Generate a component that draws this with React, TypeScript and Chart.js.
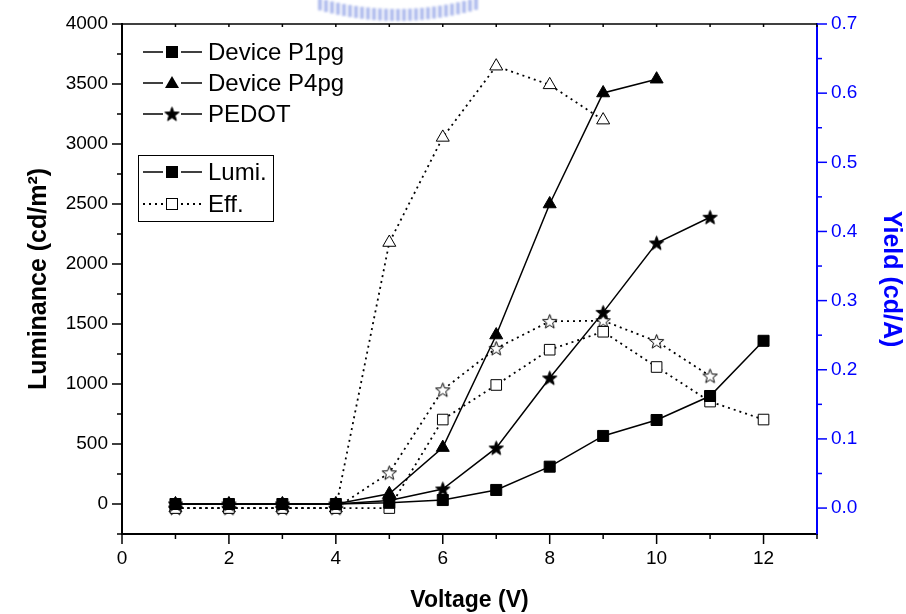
import React, { useEffect, useRef } from 'react';
import { Chart, registerables } from 'chart.js';

Chart.register(...registerables);

// ---------- data ----------
const voltage = [1, 2, 3, 4, 5, 6, 7, 8, 9, 10, 11, 12];
const p1Lumi = [0, 0, 0, 0, 10, 33, 117, 311, 567, 700, 900, 1360];
const p4Lumi = [0, 0, 0, 0, 85, 470, 1408, 2500, 3425, 3540];
const pedotLumi = [0, 0, 0, 0, 30, 125, 467, 1050, 1597, 2175, 2390];
const p1Eff = [0, 0, 0, 0, 0, 0.128, 0.178, 0.229, 0.255, 0.204, 0.154, 0.128];
const p4Eff = [0, 0, 0, 0, 0.384, 0.536, 0.639, 0.612, 0.561];
const pedotEff = [0, 0, 0, 0, 0.051, 0.171, 0.231, 0.27, 0.271, 0.241, 0.191];

const xTickValues = [0, 2, 4, 6, 8, 10, 12];
const yTickValues = [0, 500, 1000, 1500, 2000, 2500, 3000, 3500, 4000];
const y1TickValues = [0, 0.1, 0.2, 0.3, 0.4, 0.5, 0.6, 0.7];

const deviceNames = ['Device P1pg', 'Device P4pg', 'PEDOT'];
const kindNames = ['Lumi.', 'Eff.'];
const xTitle = 'Voltage (V)';
const yTitle = 'Luminance (cd/m\u00B2)';
const y1Title = 'Yield (cd/A)';

const FONT = '"Liberation Sans", Arial, sans-serif';
const BLUE = '#0000ff';

function pts(vals: number[]) {
  return vals.map((v, i) => ({ x: voltage[i], y: v }));
}

function makeStar(filled: boolean, size = 17) {
  const c = document.createElement('canvas');
  c.width = size;
  c.height = size;
  const ctx = c.getContext('2d')!;
  const cx = size / 2;
  const cy = size / 2 + 0.6;
  const R = size / 2 - 1;
  const r = R * 0.42;
  ctx.beginPath();
  for (let i = 0; i < 10; i++) {
    const ang = -Math.PI / 2 + (i * Math.PI) / 5;
    const rad = i % 2 === 0 ? R : r;
    ctx.lineTo(cx + rad * Math.cos(ang), cy + rad * Math.sin(ang));
  }
  ctx.closePath();
  ctx.fillStyle = filled ? '#000' : '#fff';
  ctx.fill();
  ctx.lineWidth = 1;
  ctx.strokeStyle = '#000';
  ctx.stroke();
  return c;
}

function line(ctx: CanvasRenderingContext2D, x1: number, y1: number, x2: number, y2: number) {
  ctx.beginPath();
  ctx.moveTo(x1, y1);
  ctx.lineTo(x2, y2);
  ctx.stroke();
}

export default function App() {
  const ref = useRef<HTMLCanvasElement | null>(null);

  useEffect(() => {
    document.body.style.margin = '0';
    const canvas = ref.current!;
    const starFilled = makeStar(true);
    const starHollow = makeStar(false);

    const mk = (label: string, vals: number[], axis: string, style: any, filled: boolean, dashed: boolean, radius: number) => ({
      label,
      data: pts(vals),
      yAxisID: axis,
      borderColor: '#000',
      borderWidth: dashed ? 1.8 : 1.5,
      borderDash: dashed ? [2, 4] : [],
      pointStyle: style,
      pointRadius: radius,
      pointBackgroundColor: filled ? '#000' : '#fff',
      pointBorderColor: '#000',
      pointBorderWidth: 1,
      fill: false,
      tension: 0,
    });

    const decor = {
      id: 'decor',
      beforeDraw(chart: any) {
        const ctx: CanvasRenderingContext2D = chart.ctx;
        ctx.save();
        ctx.fillStyle = '#fff';
        ctx.fillRect(0, 0, chart.width, chart.height);
        // faint watermark at top
        ctx.filter = 'blur(1.2px)';
        ctx.fillStyle = 'rgba(125,145,225,0.6)';
        for (let x = 320; x <= 476; x += 6) {
          const t = (x - 397) / 82;
          const yc = 5 + 12 * (1 - t * t);
          ctx.fillRect(x - 2, yc - 8, 4, 12);
        }
        ctx.restore();
      },
      afterDraw(chart: any) {
        const ctx: CanvasRenderingContext2D = chart.ctx;
        const a = chart.chartArea;
        const sx = chart.scales.x;
        const sy = chart.scales.y;
        const sy1 = chart.scales.y1;
        ctx.save();
        ctx.strokeStyle = '#000';
        ctx.lineWidth = 1.5;
        line(ctx, a.left, a.top, a.right, a.top);
        for (let v = 0; v <= 13; v++) {
          const px = sx.getPixelForValue(v);
          const len = v % 2 === 0 ? 10 : 5;
          line(ctx, px, a.bottom, px, a.bottom + len);
          line(ctx, px, a.top, px, a.top + 3);
        }
        for (let v = -250; v <= 4000; v += 250) {
          const py = sy.getPixelForValue(v);
          const len = v % 500 === 0 ? 10 : 5;
          line(ctx, a.left - len, py, a.left, py);
        }
        ctx.strokeStyle = BLUE;
        for (let i = 0; i <= 14; i++) {
          const py = sy1.getPixelForValue(i * 0.05);
          const len = i % 2 === 0 ? 10 : 5;
          line(ctx, a.right, py, a.right + len, py);
        }

        // legends
        ctx.strokeStyle = '#000';
        ctx.fillStyle = '#000';
        ctx.font = '24px ' + FONT;
        ctx.textBaseline = 'middle';
        const mx = 172;
        const segs = (yy: number, dashed: boolean) => {
          ctx.save();
          ctx.lineWidth = dashed ? 1.8 : 1.5;
          ctx.setLineDash(dashed ? [2, 4] : []);
          line(ctx, 143, yy, 163, yy);
          line(ctx, 181, yy, 202, yy);
          ctx.restore();
        };
        const square = (yy: number, filled: boolean) => {
          ctx.save();
          ctx.fillStyle = filled ? '#000' : '#fff';
          ctx.fillRect(mx - 5.5, yy - 5.5, 11, 11);
          ctx.lineWidth = 1;
          ctx.strokeStyle = '#000';
          ctx.strokeRect(mx - 5.5, yy - 5.5, 11, 11);
          ctx.restore();
        };
        const tri = (yy: number) => {
          ctx.beginPath();
          ctx.moveTo(mx, yy - 7);
          ctx.lineTo(mx + 7, yy + 5);
          ctx.lineTo(mx - 7, yy + 5);
          ctx.closePath();
          ctx.fill();
        };
        const rows = [52, 83, 114];
        rows.forEach((yy, i) => {
          segs(yy, false);
          if (i === 0) square(yy, true);
          else if (i === 1) tri(yy);
          else ctx.drawImage(starFilled, mx - starFilled.width / 2, yy - starFilled.height / 2);
          ctx.fillStyle = '#000';
          ctx.fillText(deviceNames[i], 208, yy + 1);
        });
        // second legend
        ctx.lineWidth = 1;
        ctx.strokeStyle = '#000';
        ctx.strokeRect(138.5, 155.5, 135, 66);
        const rows2 = [172, 204];
        rows2.forEach((yy, i) => {
          segs(yy, i === 1);
          square(yy, i === 0);
          ctx.fillStyle = '#000';
          ctx.fillText(kindNames[i], 208, yy + 1);
        });
        ctx.restore();
      },
    };

    const gridOpts = { display: true, drawOnChartArea: false, drawTicks: true, tickLength: 10, color: 'rgba(0,0,0,0)' };

    const chart = new Chart(canvas, {
      type: 'line',
      data: {
        datasets: [
          mk('P1pg Lumi', p1Lumi, 'y', 'rect', true, false, 7.8),
          mk('P4pg Lumi', p4Lumi, 'y', 'triangle', true, false, 7.5),
          mk('PEDOT Lumi', pedotLumi, 'y', starFilled, true, false, 8),
          mk('P1pg Eff', p1Eff, 'y1', 'rect', false, true, 7.5),
          mk('P4pg Eff', p4Eff, 'y1', 'triangle', false, true, 7.5),
          mk('PEDOT Eff', pedotEff, 'y1', starHollow, false, true, 8),
        ] as any,
      },
      options: {
        animation: false,
        responsive: false,
        events: [],
        layout: { padding: { top: 24, left: 0, right: 0, bottom: 0 } },
        plugins: {
          legend: { display: false },
          tooltip: { enabled: false },
        },
        scales: {
          x: {
            type: 'linear',
            min: 0,
            max: 13,
            afterFit: (s: any) => {
              s.height = 80;
            },
            afterBuildTicks: (s: any) => {
              s.ticks = xTickValues.map((v) => ({ value: v }));
            },
            ticks: {
              color: '#000',
              font: { family: FONT, size: 19 },
              padding: 3,
              callback: (v: any) => String(v),
            },
            grid: gridOpts,
            border: { display: true, color: '#000', width: 2 },
            title: {
              display: true,
              text: xTitle,
              color: '#000',
              font: { family: FONT, size: 23, weight: 'bold' },
              padding: { top: 4, bottom: 0 },
            },
          },
          y: {
            type: 'linear',
            position: 'left',
            min: -250,
            max: 4000,
            afterFit: (s: any) => {
              s.width = 122;
            },
            afterBuildTicks: (s: any) => {
              s.ticks = yTickValues.map((v) => ({ value: v }));
            },
            ticks: {
              color: '#000',
              font: { family: FONT, size: 19 },
              padding: 4,
              callback: (v: any) => String(v),
            },
            grid: gridOpts,
            border: { display: true, color: '#000', width: 2 },
            title: {
              display: true,
              text: yTitle,
              color: '#000',
              font: { family: FONT, size: 25, weight: 'bold' },
              padding: { top: 24, bottom: 0 },
            },
          },
          y1: {
            type: 'linear',
            position: 'right',
            min: -0.0375,
            max: 0.7,
            afterFit: (s: any) => {
              s.width = 89;
            },
            afterBuildTicks: (s: any) => {
              s.ticks = y1TickValues.map((v) => ({ value: v }));
            },
            ticks: {
              color: BLUE,
              font: { family: FONT, size: 19 },
              padding: 4,
              callback: (v: any) => Number(v).toFixed(1),
            },
            grid: gridOpts,
            border: { display: true, color: BLUE, width: 2 },
            title: {
              display: true,
              text: y1Title,
              color: BLUE,
              font: { family: FONT, size: 25, weight: 'bold' },
              padding: { top: 0, bottom: 0 },
            },
          },
        },
      } as any,
      plugins: [decor],
    });
    return () => chart.destroy();
  }, []);

  return (
    <div style={{ width: 906, height: 614 }}>
      <canvas ref={ref} width={906} height={614} style={{ display: 'block' }} />
    </div>
  );
}
